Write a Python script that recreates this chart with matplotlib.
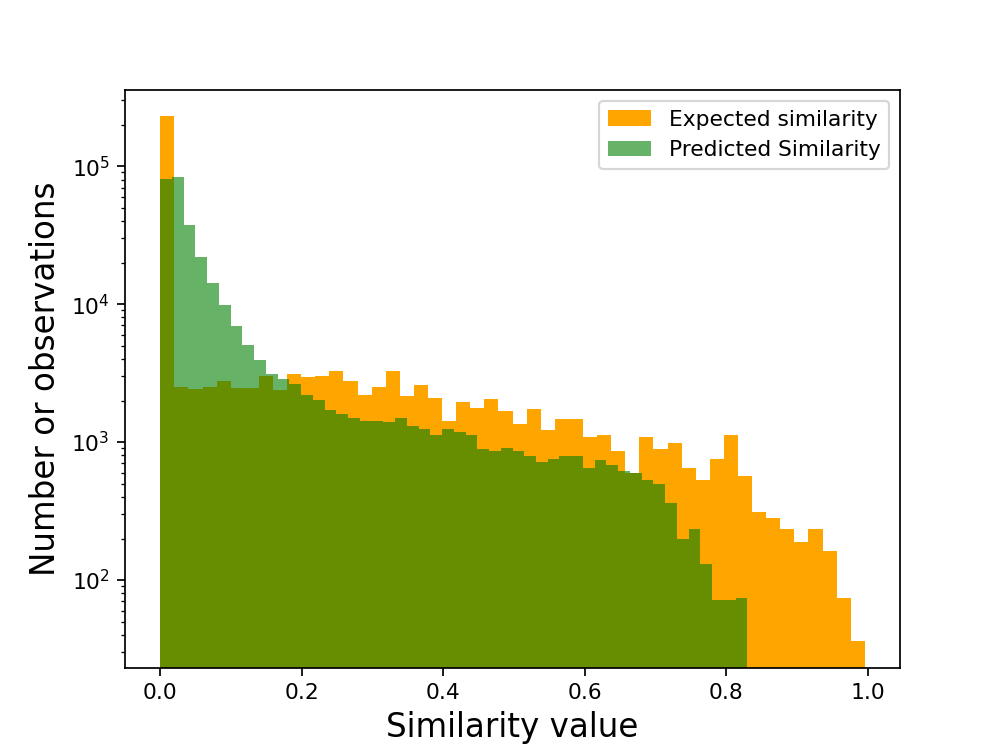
import matplotlib
matplotlib.use("Agg")
import matplotlib.pyplot as plt
import numpy as np

# bin ranges of the two histograms (50 bins each)
expected_max = 0.996
predicted_max = 0.83

# counts per bin
expected_counts = [230000, 2490, 2420, 2520, 2780, 2460, 2460, 3030, 2380, 3110,
                   2940, 3030, 3300, 2780, 2200, 2520, 3250, 2140, 2590, 2100,
                   1430, 1940, 1760, 2040, 1670, 1350, 1740, 1220, 1460, 1460,
                   1090, 1120, 863, 600, 1090, 888, 982, 646, 528, 758,
                   1120, 568, 311, 281, 233, 189, 233, 162, 74, 36]

predicted_counts = [81000, 84000, 37200, 22100, 14200, 9870, 6980, 5080, 3940, 3110,
                    2870, 2650, 2200, 2010, 1700, 1600, 1500, 1420, 1410, 1390,
                    1490, 1310, 1240, 1130, 1240, 1190, 1120, 888, 863, 912,
                    863, 794, 722, 758, 797, 797, 653, 739, 683, 618,
                    601, 528, 500, 364, 200, 233, 131, 72, 72, 74]

exp_edges = np.linspace(0, expected_max, len(expected_counts) + 1)
pred_edges = np.linspace(0, predicted_max, len(predicted_counts) + 1)

fig, ax = plt.subplots(figsize=(6.4, 4.8), dpi=156.25)

ax.hist(exp_edges[:-1], bins=exp_edges, weights=expected_counts,
        color='orange', label='Expected similarity', log=True)
# stepfilled avoids seams between the translucent bars
ax.hist(pred_edges[:-1], bins=pred_edges, weights=predicted_counts,
        histtype='stepfilled', color='green', alpha=0.6,
        label='Predicted Similarity', log=True)

ax.set_xlabel('Similarity value', fontsize=15)
ax.set_ylabel('Number or observations', fontsize=15)
ax.legend(loc='upper right')

fig.savefig('out.png')
